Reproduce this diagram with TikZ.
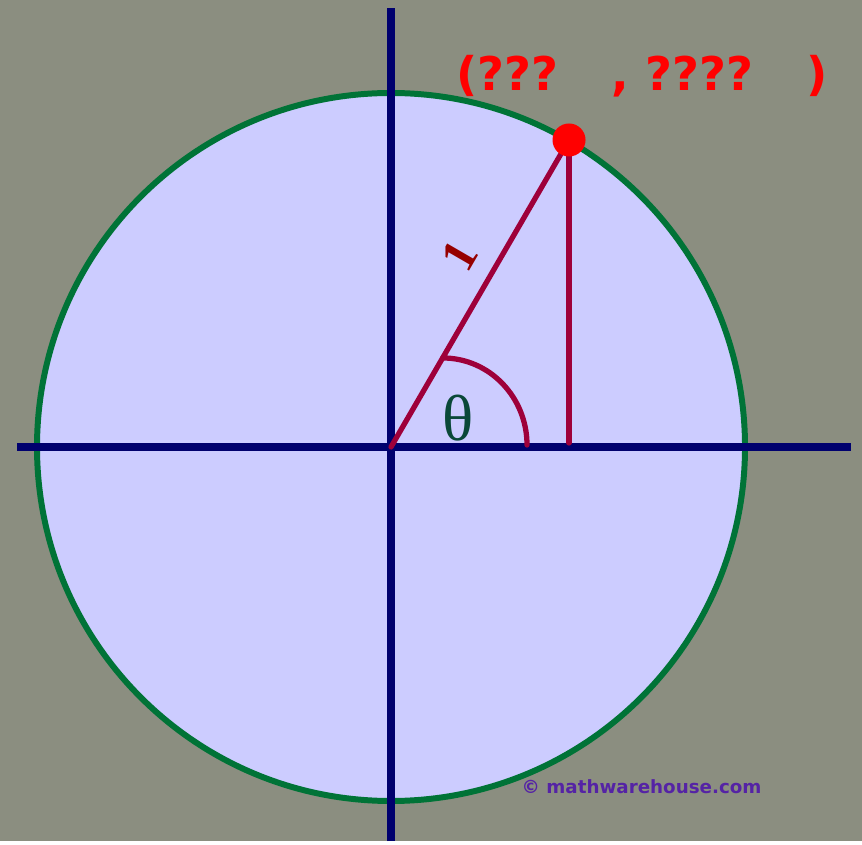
\documentclass[tikz,border=0pt]{standalone}
\usepackage{fontspec}
\setmainfont{Liberation Serif}
\newfontfamily\markfont{DejaVu Sans}
\usetikzlibrary{calc}

\definecolor{bggray}{RGB}{139,142,128}
\definecolor{discfill}{RGB}{204,204,255}
\definecolor{rimgreen}{RGB}{0,115,55}
\definecolor{axisnavy}{RGB}{0,0,110}
\definecolor{sidecrimson}{RGB}{158,0,58}
\definecolor{dotred}{RGB}{255,0,0}
\definecolor{thetagreen}{RGB}{10,72,56}
\definecolor{onered}{RGB}{150,0,0}
\definecolor{markpurple}{RGB}{85,35,165}

\begin{document}
\begin{tikzpicture}[
  x=0.01cm, y=0.01cm,
  axis/.style={draw=axisnavy, line width=2pt},
  side/.style={draw=sidecrimson, line width=1.5pt},
  dot/.style={circle, fill=dotred, minimum size=0.33cm, inner sep=0pt},
  coordlabel/.style={text=dotred, font=\markfont\bfseries\fontsize{13.2}{15}\selectfont, inner sep=0pt},
  credit/.style={text=markpurple, font=\markfont\bfseries\fontsize{5.2}{6}\selectfont, inner sep=0pt}
]
% background and unit circle
\fill[bggray] (0,0) rectangle (862,841);
\coordinate (O) at (391,394);
\draw[rimgreen, fill=discfill, line width=1.7pt] (O) circle[radius=354];

% axes
\coordinate (xl) at (17,394);
\coordinate (xr) at (851,394);
\coordinate (yb) at (391,0);
\coordinate (yt) at (391,833);
\draw[axis] (xl) -- (xr);
\draw[axis] (yb) -- (yt);

% radius, vertical side and angle
\coordinate (P) at (569,701);
\coordinate (F) at (569,398);
\coordinate (A1) at ($(O)!0.29!(P)$);
\coordinate (A2) at (527,396);
\draw[side, line cap=round] (O) -- node[pos=0.565, above=5pt, sloped, text=onered, font=\bfseries\fontsize{14}{16}\selectfont, inner sep=0pt] (one) {1} (P);
\draw[side, line cap=round] (P) -- (F);
\draw[side, line cap=round] (A1) to[out=0, in=90] (A2);
\node[text=thetagreen, font=\fontsize{18.5}{20}\selectfont] (theta) at (458,423) {θ};

\node[dot] (pt) at (P) {};
\node[coordlabel, anchor=west] (coords) at (456,765) {(???\hspace{9pt} , ????\hspace{9pt} )};

\node[credit, anchor=west] (mark) at (521,54) {© mathwarehouse.com};
\end{tikzpicture}
\end{document}
